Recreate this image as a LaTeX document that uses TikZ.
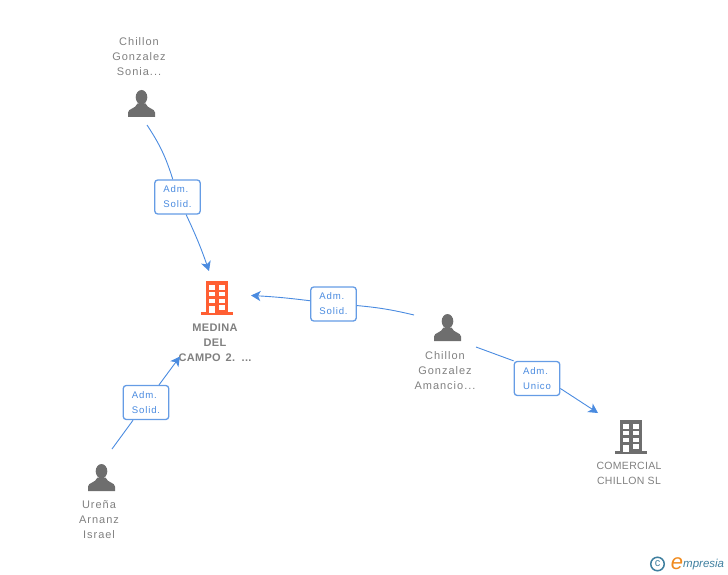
\documentclass[tikz,border=0pt]{standalone}
\usepackage{fontspec}
\setmainfont{Liberation Sans}
\newfontfamily\spacedfont[LetterSpace=9]{Liberation Sans}
\newfontfamily\firmfont[LetterSpace=3]{Liberation Sans}
\usetikzlibrary{arrows.meta}
\definecolor{linkblue}{HTML}{4A8BE0}
\definecolor{textgray}{HTML}{808080}
\definecolor{icongray}{HTML}{6E6E6E}
\definecolor{iconorange}{HTML}{FF5F33}
\definecolor{logoteal}{HTML}{3F7F9F}
\definecolor{logoorange}{HTML}{F08A1D}
\tikzset{
    link/.style={linkblue, line width=0.9pt},
    linkto/.style={link, -{Stealth[length=9.5pt,width=10pt,inset=2.5pt]}},
    rolebox/.style={draw=linkblue!85, line width=1.3pt, rounded corners=3pt, fill=white, minimum width=45.5pt, minimum height=34pt, inner sep=0pt, text=linkblue, font=\fontsize{9.6}{15}\spacedfont, align=left},
    namelabel/.style={text=textgray, font=\fontsize{11}{15}\spacedfont, align=center, inner sep=0pt},
    firmlabel/.style={text=textgray, font=\fontsize{11}{15}\firmfont\bfseries, align=center, inner sep=0pt},
    personicon/.pic={
        \fill[icongray] (0,-6.3) ellipse (5.8 and 7.2);
        \fill[icongray] (-13.5,13.5) -- (-13.5,9) .. controls (-13.5,5) and (-6,5.5) .. (-4,0) -- (4,0) .. controls (6,5.5) and (13.5,5) .. (13.5,9) -- (13.5,13.5) -- cycle;
    },
    buildingicon/.pic={
        \fill[#1] (-11,-17) rectangle (11,15);
        \fill[#1] (-16,14) rectangle (16,17);
        \foreach \y in {-13,-6.3,0.7} {
            \fill[white] (-7.6,\y) rectangle +(5.2,4.6);
            \fill[white] (2.4,\y) rectangle +(5.2,4.6);
        }
        \fill[white] (-7.6,7.5) rectangle (-2.4,15);
        \fill[white] (2.4,7) rectangle (7.6,11.6);
    }
}
\begin{document}
\begin{tikzpicture}[x=1pt,y=-1pt]
    \useasboundingbox (0,0) rectangle (728,575);

    % Icons
    \pic at (141.5,103.5) {personicon};
    \pic at (447.5,327.5) {personicon};
    \pic at (101.5,477.5) {personicon};
    \pic at (217,298) {buildingicon=iconorange};
    \pic at (631,437) {buildingicon=icongray};

    % Labels
    \node[namelabel] (sonia) at (139,56.5) {Chillon\\Gonzalez\\Sonia...};
    \node[namelabel] (amancio) at (445,370.5) {Chillon\\Gonzalez\\Amancio...};
    \node[namelabel] (israel) at (99,520) {Ureña\\Arnanz\\Israel};
    \node[firmlabel] (medina) at (215,342.5) {MEDINA\\DEL\\CAMPO\hspace{1.5pt} 2.\hspace{2pt} ...};
    \node[namelabel, font=\fontsize{10.5}{15}\firmfont] (comercial) at (629,473.5) {COMERCIAL\\CHILLON SL};

    % Connector ends
    \coordinate (soniaEnd) at (147,125);
    \coordinate (medinaTop) at (209,271);
    \coordinate (amancioEnd) at (414,315);
    \coordinate (medinaRight) at (251,295.5);
    \coordinate (israelEnd) at (112,449);
    \coordinate (medinaBottom) at (180,356.5);
    \coordinate (amancioRight) at (476,347);
    \coordinate (comercialTop) at (598,413);

    % Role boxes
    \node[rolebox] (admSonia) at (177.5,197) {Adm.\\Solid.};
    \node[rolebox] (admAmancio) at (333.5,304) {Adm.\\Solid.};
    \node[rolebox] (admIsrael) at (146,402.5) {Adm.\\Solid.};
    \node[rolebox] (admUnico) at (537,378.5) {Adm.\\Unico};

    % Connectors
    \draw[link] (soniaEnd) to[bend left=8] (admSonia);
    \draw[linkto] (admSonia) to[bend left=3] (medinaTop);
    \draw[link] (amancioEnd) to[bend right=4] (admAmancio);
    \draw[linkto] (admAmancio) to[bend right=2] (medinaRight);
    \draw[link] (israelEnd) -- (admIsrael);
    \draw[linkto] (admIsrael) -- (medinaBottom);
    \draw[link] (amancioRight) -- (admUnico.north west);
    \draw[linkto] ([yshift=-10pt]admUnico.east) -- (comercialTop);

    % Logo
    \node[circle, draw=logoteal, line width=1.5pt, minimum size=13.5pt, inner sep=0pt, text=logoteal, font=\fontsize{11}{11}\selectfont] (copyLogo) at (657.5,564) {c};
    \node[text=logoorange, font=\fontsize{22}{22}\itshape\selectfont, inner sep=0pt] (eLogo) at (677,563.5) {e};
    \node[text=logoteal, font=\fontsize{11.5}{12}\itshape\selectfont, inner sep=0pt, anchor=west] (nameLogo) at (683,565) {mpresia};
\end{tikzpicture}
\end{document}
